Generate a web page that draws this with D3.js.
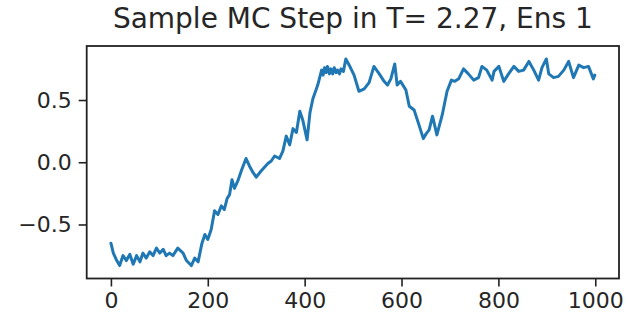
<!DOCTYPE html>
<html>
<head>
<meta charset="utf-8">
<script src="https://cdn.jsdelivr.net/npm/d3@7"></script>
<style>
  html, body { margin: 0; padding: 0; background: #fff; }
  svg { display: block; }
  text { font-family: "DejaVu Sans", sans-serif; fill: #262626; }
</style>
</head>
<body>
<svg id="chart" width="628" height="321"></svg>
<script>
// Magnetisation per spin over Monte Carlo steps, one ensemble member at T = 2.27
const steps = [0, 5, 12, 18, 25, 32, 39, 46, 53, 60, 66, 73, 80, 87, 94, 101, 108, 114, 121, 128,
  138, 149, 156, 166, 173, 180, 188, 194, 200, 207, 214, 221, 228, 234, 240, 245, 250, 255,
  262, 270, 279, 286, 293, 300, 310, 317, 324, 331, 338, 348, 355, 362, 369, 376, 383, 390,
  396, 405, 411, 417, 427, 435, 438, 441, 444, 447, 451, 454, 458, 461, 465, 468, 472, 475,
  480, 485, 492, 502, 512, 523, 533,
  543, 554, 564, 571, 578, 586, 591, 598, 609, 616, 626, 636, 645, 651, 657, 664, 673, 684,
  694, 703, 710, 718, 728, 738, 749, 759, 766, 776, 787, 791, 801, 811, 821, 832, 842, 852,
  863, 873, 883, 890, 899, 904, 914, 924, 935, 945, 955, 966, 976, 986, 996, 999];
const magnetization = [-0.65, -0.73, -0.79, -0.83, -0.75, -0.79, -0.74, -0.82, -0.75, -0.80,
  -0.73, -0.77, -0.72, -0.75, -0.69, -0.73, -0.70, -0.75, -0.73, -0.75,
  -0.69, -0.73, -0.79, -0.83, -0.77, -0.80, -0.65, -0.58, -0.62, -0.54, -0.39, -0.42, -0.35,
  -0.38, -0.29, -0.26, -0.14, -0.21,
  -0.15, -0.06, 0.03, -0.03, -0.08, -0.12, -0.07, -0.04, -0.01, 0.01, 0.05, 0.03, 0.09, 0.21,
  0.14, 0.27, 0.24, 0.41, 0.34, 0.18, 0.40, 0.51, 0.62, 0.74, 0.70, 0.76, 0.72, 0.77, 0.71,
  0.75, 0.71, 0.76, 0.72, 0.74, 0.71, 0.75,
  0.73, 0.83, 0.78, 0.70, 0.57, 0.59, 0.64,
  0.77, 0.71, 0.65, 0.62, 0.67, 0.79, 0.62, 0.65, 0.58, 0.45, 0.42, 0.30, 0.19, 0.23, 0.26,
  0.37, 0.22, 0.38, 0.57, 0.66, 0.65, 0.67, 0.75, 0.71, 0.66, 0.68, 0.77, 0.74, 0.66,
  0.73, 0.77, 0.65, 0.71, 0.77, 0.73, 0.74, 0.81, 0.74, 0.66, 0.76, 0.83, 0.71, 0.68, 0.69,
  0.74, 0.81, 0.68, 0.78, 0.76, 0.77, 0.67, 0.70];
const xTicks = [0, 200, 400, 600, 800, 1000];
const yTicks = [-0.5, 0.0, 0.5];
const title = "Sample MC Step in T= 2.27, Ens 1";

const svg = d3.select("#chart");
const plot = { left: 86.7, right: 619, top: 46, bottom: 278.5 };

const x = d3.scaleLinear().domain([-50, 1049]).range([plot.left, plot.right]);
const y = d3.scaleLinear().domain([-0.934, 0.934]).range([plot.bottom, plot.top]);

const data = steps.map((s, i) => ({ s, m: magnetization[i] }));

// Trace
svg.append("path")
  .datum(data)
  .attr("fill", "none")
  .attr("stroke", "#1f77b4")
  .attr("stroke-width", 3)
  .attr("stroke-linejoin", "round")
  .attr("stroke-linecap", "round")
  .attr("d", d3.line().x(d => x(d.s)).y(d => y(d.m)));

// Axes
const fmtY = d => d3.format(".1f")(d).replace("-", "\u2212");
const xAxis = svg.append("g")
  .attr("transform", `translate(0,${plot.bottom})`)
  .call(d3.axisBottom(x).tickValues(xTicks).tickSize(8).tickPadding(6).tickFormat(d3.format("d")));
const yAxis = svg.append("g")
  .attr("transform", `translate(${plot.left},0)`)
  .call(d3.axisLeft(y).tickValues(yTicks).tickSize(8).tickPadding(7).tickFormat(fmtY));

[xAxis, yAxis].forEach(g => {
  g.select(".domain").remove();
  g.selectAll(".tick line").attr("stroke", "#222").attr("stroke-width", 1.6);
  g.selectAll(".tick text")
    .attr("font-family", "DejaVu Sans, sans-serif")
    .attr("font-size", 22)
    .attr("fill", "#333");
});
xAxis.selectAll(".tick text").attr("dy", "0.71em");

// Frame
svg.append("rect")
  .attr("x", plot.left).attr("y", plot.top)
  .attr("width", plot.right - plot.left).attr("height", plot.bottom - plot.top)
  .attr("fill", "none").attr("stroke", "#222").attr("stroke-width", 1.8);

// Title
svg.append("text")
  .attr("x", (plot.left + plot.right) / 2)
  .attr("y", 28.3)
  .attr("text-anchor", "middle")
  .attr("font-size", 28)
  .attr("fill", "#2a2a2a")
  .text(title);
</script>
</body>
</html>
